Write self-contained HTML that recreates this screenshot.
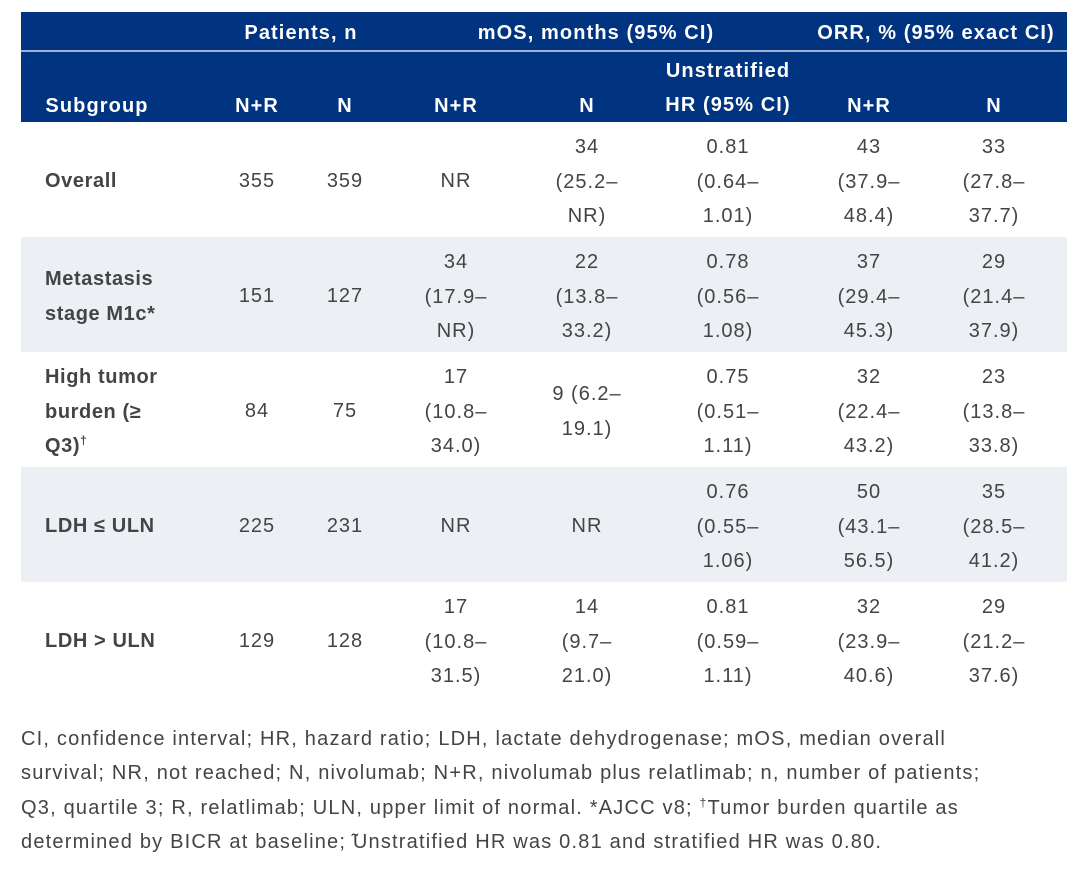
<!DOCTYPE html>
<html><head><meta charset="utf-8"><style>
body{margin:0;width:1080px;height:873px;background:#fff;font-family:"Liberation Sans",sans-serif;position:relative;overflow:hidden}
.a{position:absolute}
.hd{background:#003380}
.t{position:absolute;transform:translateX(-50%);text-align:center;font-size:20px;line-height:34.5px;color:#444;white-space:nowrap;letter-spacing:1px;margin-top:2px}
.h{position:absolute;transform:translateX(-50%);text-align:center;font-size:20px;font-weight:bold;color:#fff;white-space:nowrap;line-height:34px;letter-spacing:1.1px;margin-top:2px}
.s{position:absolute;left:45px;font-size:20px;font-weight:bold;color:#444;line-height:34.5px;letter-spacing:0.6px;margin-top:2px}
.foot{position:absolute;left:21px;top:722px;width:1060px;font-size:20px;line-height:34.3px;color:#444;letter-spacing:1.2px;white-space:nowrap}
</style></head><body>
<div class="a hd" style="left:21px;top:12px;width:1046px;height:38px"></div>
<div class="a" style="left:21px;top:50px;width:1046px;height:2px;background:#9fb0d0"></div>
<div class="a hd" style="left:21px;top:52px;width:1046px;height:70px"></div>
<div class="a" style="left:21px;top:237px;width:1046px;height:115px;background:#eceff4"></div>
<div class="a" style="left:21px;top:467px;width:1046px;height:115px;background:#eceff4"></div>

<div class="h" style="left:301px;top:14px">Patients, n</div>
<div class="h" style="left:596px;top:14px">mOS, months (95% CI)</div>
<div class="h" style="left:936px;top:14px">ORR, % (95% exact CI)</div>
<div class="h" style="left:97px;top:87px">Subgroup</div>
<div class="h" style="left:257px;top:87px">N+R</div>
<div class="h" style="left:345px;top:87px">N</div>
<div class="h" style="left:456px;top:87px">N+R</div>
<div class="h" style="left:587px;top:87px">N</div>
<div class="h" style="left:728px;top:52px">Unstratified<br>HR (95% CI)</div>
<div class="h" style="left:869px;top:87px">N+R</div>
<div class="h" style="left:994px;top:87px">N</div>

<div class="s" style="top:162px">Overall</div>
<div class="t" style="left:257px;top:162px">355</div>
<div class="t" style="left:345px;top:162px">359</div>
<div class="t" style="left:456px;top:162px">NR</div>
<div class="t" style="left:587px;top:128px">34<br>(25.2–<br>NR)</div>
<div class="t" style="left:728px;top:128px">0.81<br>(0.64–<br>1.01)</div>
<div class="t" style="left:869px;top:128px">43<br>(37.9–<br>48.4)</div>
<div class="t" style="left:994px;top:128px">33<br>(27.8–<br>37.7)</div>

<div class="s" style="top:260px">Metastasis<br>stage M1c*</div>
<div class="t" style="left:257px;top:277px">151</div>
<div class="t" style="left:345px;top:277px">127</div>
<div class="t" style="left:456px;top:243px">34<br>(17.9–<br>NR)</div>
<div class="t" style="left:587px;top:243px">22<br>(13.8–<br>33.2)</div>
<div class="t" style="left:728px;top:243px">0.78<br>(0.56–<br>1.08)</div>
<div class="t" style="left:869px;top:243px">37<br>(29.4–<br>45.3)</div>
<div class="t" style="left:994px;top:243px">29<br>(21.4–<br>37.9)</div>

<div class="s" style="top:358px">High tumor<br>burden (≥<br>Q3)<sup style="font-size:12px;line-height:0">†</sup></div>
<div class="t" style="left:257px;top:392px">84</div>
<div class="t" style="left:345px;top:392px">75</div>
<div class="t" style="left:456px;top:358px">17<br>(10.8–<br>34.0)</div>
<div class="t" style="left:587px;top:375px">9 (6.2–<br>19.1)</div>
<div class="t" style="left:728px;top:358px">0.75<br>(0.51–<br>1.11)</div>
<div class="t" style="left:869px;top:358px">32<br>(22.4–<br>43.2)</div>
<div class="t" style="left:994px;top:358px">23<br>(13.8–<br>33.8)</div>

<div class="s" style="top:507px">LDH ≤ ULN</div>
<div class="t" style="left:257px;top:507px">225</div>
<div class="t" style="left:345px;top:507px">231</div>
<div class="t" style="left:456px;top:507px">NR</div>
<div class="t" style="left:587px;top:507px">NR</div>
<div class="t" style="left:728px;top:473px">0.76<br>(0.55–<br>1.06)</div>
<div class="t" style="left:869px;top:473px">50<br>(43.1–<br>56.5)</div>
<div class="t" style="left:994px;top:473px">35<br>(28.5–<br>41.2)</div>

<div class="s" style="top:622px">LDH &gt; ULN</div>
<div class="t" style="left:257px;top:622px">129</div>
<div class="t" style="left:345px;top:622px">128</div>
<div class="t" style="left:456px;top:588px">17<br>(10.8–<br>31.5)</div>
<div class="t" style="left:587px;top:588px">14<br>(9.7–<br>21.0)</div>
<div class="t" style="left:728px;top:588px">0.81<br>(0.59–<br>1.11)</div>
<div class="t" style="left:869px;top:588px">32<br>(23.9–<br>40.6)</div>
<div class="t" style="left:994px;top:588px">29<br>(21.2–<br>37.6)</div>

<div class="foot">CI, confidence interval; HR, hazard ratio; LDH, lactate dehydrogenase; mOS, median overall<br>survival; NR, not reached; N, nivolumab; N+R, nivolumab plus relatlimab; n, number of patients;<br>Q3, quartile 3; R, relatlimab; ULN, upper limit of normal. *AJCC v8; <sup style="font-size:12px;line-height:0">†</sup>Tumor burden quartile as<br>determined by BICR at baseline; ̃Unstratified HR was 0.81 and stratified HR was 0.80.</div>
</body></html>
